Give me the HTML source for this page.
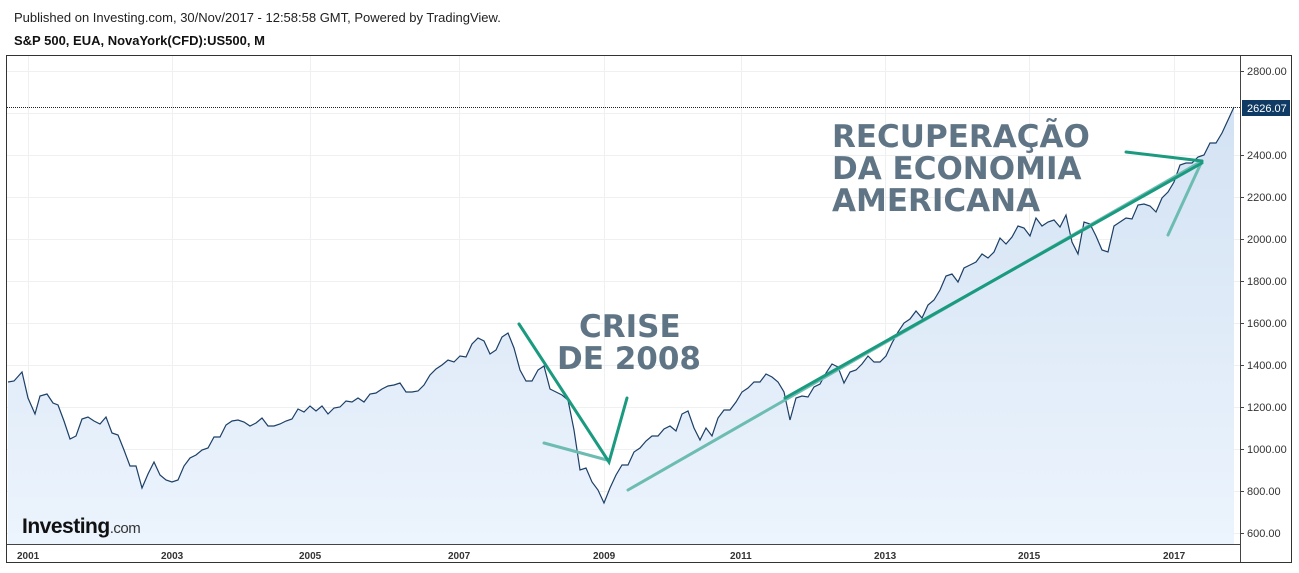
<!DOCTYPE html>
<html><head><meta charset="utf-8"><style>
body{margin:0;width:1299px;height:568px;background:#fff;overflow:hidden;font-family:"Liberation Sans",Arial,sans-serif}
</style></head><body>
<svg width="1299" height="568" xmlns="http://www.w3.org/2000/svg" font-family="Liberation Sans, Arial, sans-serif">
<defs><linearGradient id="g" x1="0" y1="0" x2="0" y2="1"><stop offset="0" stop-color="#d3e2f3"/><stop offset="1" stop-color="#ecf4fd"/></linearGradient></defs>
<text x="14" y="22" font-size="13" fill="#222">Published on Investing.com, 30/Nov/2017 - 12:58:58 GMT, Powered by TradingView.</text>
<text x="14" y="45" font-size="13" font-weight="bold" fill="#111">S&amp;P 500, EUA, NovaYork(CFD):US500, M</text>
<rect x="6.5" y="55.5" width="1285" height="507" fill="#fff" stroke="#333"/>
<g stroke="#eef0f2" stroke-width="1">
<line x1="7" y1="71.5" x2="1240" y2="71.5"/><line x1="7" y1="113.5" x2="1240" y2="113.5"/><line x1="7" y1="155.5" x2="1240" y2="155.5"/><line x1="7" y1="197.5" x2="1240" y2="197.5"/><line x1="7" y1="239.5" x2="1240" y2="239.5"/><line x1="7" y1="281.5" x2="1240" y2="281.5"/><line x1="7" y1="323.5" x2="1240" y2="323.5"/><line x1="7" y1="365.5" x2="1240" y2="365.5"/><line x1="7" y1="407.5" x2="1240" y2="407.5"/><line x1="7" y1="449.5" x2="1240" y2="449.5"/><line x1="7" y1="491.5" x2="1240" y2="491.5"/><line x1="7" y1="533.5" x2="1240" y2="533.5"/>
<line x1="28.5" y1="56" x2="28.5" y2="544"/><line x1="172.5" y1="56" x2="172.5" y2="544"/><line x1="310.5" y1="56" x2="310.5" y2="544"/><line x1="459.5" y1="56" x2="459.5" y2="544"/><line x1="604.5" y1="56" x2="604.5" y2="544"/><line x1="741.5" y1="56" x2="741.5" y2="544"/><line x1="885.5" y1="56" x2="885.5" y2="544"/><line x1="1029.5" y1="56" x2="1029.5" y2="544"/><line x1="1174.5" y1="56" x2="1174.5" y2="544"/>
</g>
<polygon fill="url(#g)" points="8,544 8,382 14,381 22,372 28,398 35,414 40,396 47,394 53,403 58,405 64,421 70,439 76,436 82,419 88,417 94,421 100,424 106,417 112,433 118,435 124,450 130,466 136,466 142,488 148,474 154,462 160,475 166,480 172,482 178,480 184,466 190,458 196,455 202,450 208,448 214,437 220,437 226,425 232,421 238,420 244,422 250,426 256,423 262,418 268,426 274,426 280,424 286,421 292,419 298,409 304,412 310,406 316,411 322,406 328,414 334,408 340,407 346,401 352,402 358,398 364,402 370,394 376,393 382,389 388,386 394,385 400,383 406,392 412,392 418,391 424,385 430,375 436,369 442,365 448,360 454,362 460,356 466,357 472,344 478,338 484,341 490,354 496,350 502,337 508,333 514,348 520,370 526,381 532,381 538,370 544,366 550,389 556,392 562,395 568,400 574,430 580,470 586,468 592,482 598,490 604,503 610,488 616,475 622,465 628,465 634,452 640,448 646,441 652,436 658,436 664,429 670,426 676,431 682,414 688,411 694,428 700,440 706,428 712,436 718,418 724,410 730,410 736,402 742,392 748,388 754,382 760,382 766,374 772,377 778,382 784,392 790,420 796,398 802,396 808,397 814,387 820,384 826,373 832,364 838,367 844,383 850,372 856,370 862,364 868,356 874,362 880,362 886,356 892,343 898,332 904,323 910,319 916,311 922,318 928,305 934,300 940,290 946,276 952,274 958,282 964,268 970,265 976,262 982,254 988,258 994,252 1000,238 1006,244 1012,237 1018,226 1024,228 1030,236 1036,218 1042,226 1048,222 1054,220 1060,227 1066,215 1072,242 1078,254 1084,222 1090,224 1096,236 1102,250 1108,252 1114,226 1120,222 1126,218 1132,219 1138,205 1144,204 1150,206 1156,212 1162,198 1168,192 1174,182 1180,165 1186,163 1192,163 1198,157 1204,155 1210,143 1216,143 1222,133 1228,120 1234,107 1234,544"/>
<polyline fill="none" stroke="#1c3f66" stroke-width="1.2" points="8,382 14,381 22,372 28,398 35,414 40,396 47,394 53,403 58,405 64,421 70,439 76,436 82,419 88,417 94,421 100,424 106,417 112,433 118,435 124,450 130,466 136,466 142,488 148,474 154,462 160,475 166,480 172,482 178,480 184,466 190,458 196,455 202,450 208,448 214,437 220,437 226,425 232,421 238,420 244,422 250,426 256,423 262,418 268,426 274,426 280,424 286,421 292,419 298,409 304,412 310,406 316,411 322,406 328,414 334,408 340,407 346,401 352,402 358,398 364,402 370,394 376,393 382,389 388,386 394,385 400,383 406,392 412,392 418,391 424,385 430,375 436,369 442,365 448,360 454,362 460,356 466,357 472,344 478,338 484,341 490,354 496,350 502,337 508,333 514,348 520,370 526,381 532,381 538,370 544,366 550,389 556,392 562,395 568,400 574,430 580,470 586,468 592,482 598,490 604,503 610,488 616,475 622,465 628,465 634,452 640,448 646,441 652,436 658,436 664,429 670,426 676,431 682,414 688,411 694,428 700,440 706,428 712,436 718,418 724,410 730,410 736,402 742,392 748,388 754,382 760,382 766,374 772,377 778,382 784,392 790,420 796,398 802,396 808,397 814,387 820,384 826,373 832,364 838,367 844,383 850,372 856,370 862,364 868,356 874,362 880,362 886,356 892,343 898,332 904,323 910,319 916,311 922,318 928,305 934,300 940,290 946,276 952,274 958,282 964,268 970,265 976,262 982,254 988,258 994,252 1000,238 1006,244 1012,237 1018,226 1024,228 1030,236 1036,218 1042,226 1048,222 1054,220 1060,227 1066,215 1072,242 1078,254 1084,222 1090,224 1096,236 1102,250 1108,252 1114,226 1120,222 1126,218 1132,219 1138,205 1144,204 1150,206 1156,212 1162,198 1168,192 1174,182 1180,165 1186,163 1192,163 1198,157 1204,155 1210,143 1216,143 1222,133 1228,120 1234,107"/>
<line x1="7" y1="107.5" x2="1240" y2="107.5" stroke="#222" stroke-dasharray="1,1"/>
<g stroke-width="3" fill="none" stroke-linecap="round">
<line x1="544" y1="443" x2="607" y2="460" stroke="#6dbcb2"/>
<polyline points="628,490 1202,161" stroke="#6dbcb2"/>
<line x1="1168" y1="235" x2="1202" y2="161" stroke="#6dbcb2"/>
<polyline points="519,324 609,462 627,398" stroke="#1a9a7e"/>
<polyline points="785,398 1202,163" stroke="#1a9a7e"/>
<line x1="1126" y1="152" x2="1202" y2="161" stroke="#1a9a7e"/>
</g>
<g font-weight="bold" font-size="31" fill="#5f7585" font-family="DejaVu Sans, Liberation Sans, sans-serif">
<text x="579" y="337">CRISE</text><text x="557" y="369">DE 2008</text>
<text x="832" y="147">RECUPERAÇÃO</text><text x="832" y="179">DA ECONOMIA</text><text x="832" y="211">AMERICANA</text>
</g>
<text x="22" y="533" font-size="21" font-weight="bold" fill="#111" letter-spacing="-0.5">Investing<tspan font-weight="normal" font-size="15" fill="#333">.com</tspan></text>
<line x1="7" y1="544.5" x2="1240" y2="544.5" stroke="#444"/>
<line x1="1240.5" y1="56" x2="1240.5" y2="562" stroke="#444"/>
<g font-size="11" fill="#333">
<text x="1247" y="75">2800.00</text><text x="1247" y="159">2400.00</text><text x="1247" y="201">2200.00</text><text x="1247" y="243">2000.00</text><text x="1247" y="285">1800.00</text><text x="1247" y="327">1600.00</text><text x="1247" y="369">1400.00</text><text x="1247" y="411">1200.00</text><text x="1247" y="453">1000.00</text><text x="1247" y="495">800.00</text><text x="1247" y="537">600.00</text>
</g>
<g stroke="#444"><line x1="1240" y1="71.5" x2="1244" y2="71.5"/><line x1="1240" y1="155.5" x2="1244" y2="155.5"/><line x1="1240" y1="197.5" x2="1244" y2="197.5"/><line x1="1240" y1="239.5" x2="1244" y2="239.5"/><line x1="1240" y1="281.5" x2="1244" y2="281.5"/><line x1="1240" y1="323.5" x2="1244" y2="323.5"/><line x1="1240" y1="365.5" x2="1244" y2="365.5"/><line x1="1240" y1="407.5" x2="1244" y2="407.5"/><line x1="1240" y1="449.5" x2="1244" y2="449.5"/><line x1="1240" y1="491.5" x2="1244" y2="491.5"/><line x1="1240" y1="533.5" x2="1244" y2="533.5"/></g>
<rect x="1242" y="100" width="48" height="16" fill="#0e3a63"/>
<text x="1247" y="112" font-size="11" fill="#fff">2626.07</text>
<g font-size="10" font-weight="bold" fill="#333">
<text x="17" y="559">2001</text><text x="161" y="559">2003</text><text x="299" y="559">2005</text><text x="448" y="559">2007</text><text x="593" y="559">2009</text><text x="730" y="559">2011</text><text x="874" y="559">2013</text><text x="1018" y="559">2015</text><text x="1163" y="559">2017</text>
</g>
</svg>
</body></html>
